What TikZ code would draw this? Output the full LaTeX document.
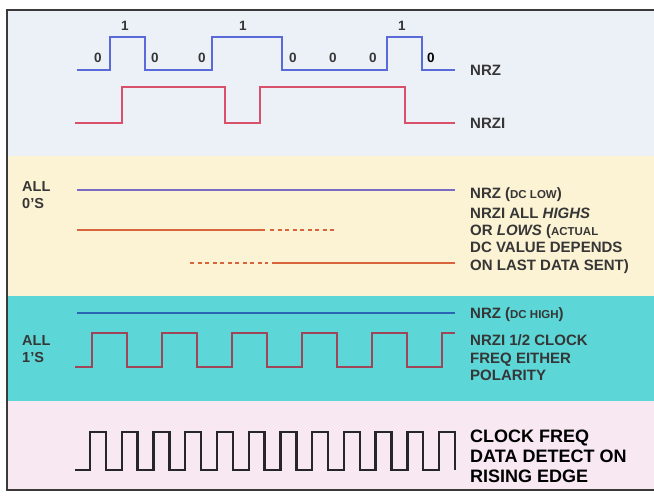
\documentclass[tikz,border=0pt]{standalone}
\usepackage{fontspec}
\setmainfont{Liberation Sans}
\definecolor{topbg}{HTML}{ECF1F8}
\definecolor{yelbg}{HTML}{FCF3D4}
\definecolor{cyanbg}{HTML}{5CD6D7}
\definecolor{pinkbg}{HTML}{F8E8F2}
\definecolor{nrzblue}{HTML}{5A6AD8}
\definecolor{nrzired}{HTML}{D9506A}
\definecolor{dclow}{HTML}{7A6CC4}
\definecolor{orangered}{HTML}{D8643C}
\definecolor{dchigh}{HTML}{2A64B4}
\definecolor{waveone}{HTML}{A04458}
\definecolor{clockc}{HTML}{262626}
\definecolor{textc}{HTML}{363636}
\definecolor{framec}{HTML}{3A3A3A}
\begin{document}
\begin{tikzpicture}[x=1pt,y=-1pt,line join=miter,
  wave/.style={line width=2.4pt},
  lbl/.style={anchor=base west,inner sep=0pt,text=textc,font=\bfseries\fontsize{15}{17}\selectfont},
  sml/.style={anchor=base west,inner sep=0pt,text=textc,font=\bfseries\fontsize{14.5}{16}\selectfont},
  bit/.style={anchor=base,inner sep=0pt,text=textc,font=\bfseries\fontsize{13.5}{15}\selectfont},
  clk/.style={anchor=base west,inner sep=0pt,text=black,font=\bfseries\fontsize{18}{20}\selectfont},
  dotted line/.style={line width=2.2pt,dash pattern=on 4pt off 3.5pt}]
\useasboundingbox (0,0) rectangle (654,500);
\fill[white] (0,0) rectangle (654,500);
\fill[topbg] (7,10) rectangle (654,156);
\fill[yelbg] (7,156) rectangle (654,296);
\fill[cyanbg] (7,296) rectangle (654,401);
\fill[pinkbg] (7,401) rectangle (654,490);
\draw[framec,line width=2pt] (660,10) -- (7,10) -- (7,490) -- (660,490);

% NRZ
\draw[wave,nrzblue] (77,70) -- (110,70) -- (110,37) -- (145,37) -- (145,70) -- (212,70) -- (212,37) -- (282,37) -- (282,70) -- (387,70) -- (387,37) -- (422,37) -- (422,70) -- (455,70);
\foreach \x/\b [count=\i] in {98/0,125/1,155/0,202/0,243/1,293/0,333/0,373/0,402/1}{
  \ifnum\b=0 \node[bit] (b\i) at (\x,63) {0};\else \node[bit] (b\i) at (\x,31) {1};\fi
}
\node[bit,text=black] (b10) at (431,63) {0};
\node[lbl] (nrz) at (470,76) {NRZ};

% NRZI
\draw[wave,nrzired] (75,123) -- (122,123) -- (122,87) -- (225,87) -- (225,123) -- (260,123) -- (260,87) -- (405,87) -- (405,123) -- (455,123);
\node[lbl] (nrzi) at (470,129) {NRZI};

% ALL 0'S
\node[sml] (all0a) at (22,192) {ALL};
\node[sml] (all0b) at (22,209) {0'S};
\draw[wave,dclow] (77,190) -- (455,190);
\node[lbl] (dclowl) at (470,198.5) {NRZ ({\fontsize{11.5}{13}\selectfont DC LOW})};
\draw[wave,orangered] (77,230) -- (265,230);
\draw[dotted line,orangered] (270,230) -- (335,230);
\draw[dotted line,orangered] (190,263) -- (268,263);
\draw[wave,orangered] (272,263) -- (455,263);
\node[lbl] (z1) at (470,218.5) {NRZI ALL \textit{HIGHS}};
\node[lbl] (z2) at (470,235.5) {OR \textit{LOWS} ({\fontsize{11.5}{13}\selectfont ACTUAL}};
\node[lbl] (z3) at (470,253) {DC VALUE DEPENDS};
\node[lbl] (z4) at (470,270.5) {ON LAST DATA SENT)};

% ALL 1'S
\draw[wave,dchigh] (77,313) -- (455,313);
\node[lbl] (dchighl) at (470,318.5) {NRZ ({\fontsize{11.5}{13}\selectfont DC HIGH})};
\node[sml] (all1a) at (22,345) {ALL};
\node[sml] (all1b) at (22,362) {1'S};
\draw[wave,waveone] (75,367) -- (92,367)
  \foreach \k in {0,...,4}{ -- ++(0,-34) -- ++(35,0) -- ++(0,34) -- ++(35,0)}
  -- ++(0,-34) -- (455,333);
\node[lbl] (o1) at (470,345.5) {NRZI 1/2 CLOCK};
\node[lbl] (o2) at (470,363) {FREQ EITHER};
\node[lbl] (o3) at (470,380.5) {POLARITY};

% CLOCK
\draw[wave,clockc] (75,470) -- (90,470)
  \foreach \k in {1,...,11}{ -- ++(0,-38) -- ++(15.87,0) -- ++(0,38) -- ++(15.87,0)}
  -- ++(0,-38) -- ++(15.87,0) -- ++(0,38);
\node[clk] (c1) at (470,442.5) {CLOCK FREQ};
\node[clk] (c2) at (470,462) {DATA DETECT ON};
\node[clk] (c3) at (470,482) {RISING EDGE};
\end{tikzpicture}
\end{document}
